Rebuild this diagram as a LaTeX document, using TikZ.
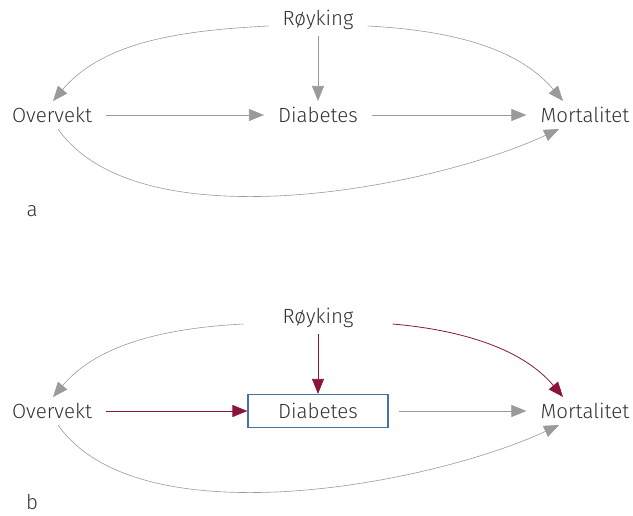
\documentclass[tikz,border=0pt]{standalone}
\usepackage{fontspec}
\setmainfont{Fira Sans Light}
\usetikzlibrary{positioning, arrows.meta}
\definecolor{xgray}{HTML}{9A9A9C}
\definecolor{xred}{HTML}{8A1538}
\definecolor{xblue}{HTML}{4673A3}
\tikzset{
	arrow/.style={line width=0.6pt, draw=xgray, -{Triangle[length=15pt, width=12pt]}, xgray},
	redarrow/.style={line width=0.8pt, draw=xred, -{Triangle[length=15pt, width=12pt]}, xred},
	var/.style={font=\fontsize{20.5}{24}\selectfont, text=black!80, inner xsep=14pt, inner ysep=6pt},
	panel/.style={font=\fontsize{20.5}{24}\selectfont, text=black!80, inner sep=0pt},
}
\begin{document}
\begin{tikzpicture}[x=1pt, y=-1pt]
		\useasboundingbox (0,0) rectangle (633,516);
		% a: causal diagram
		\node[var] (R) at (318,20) {Røyking};
		\node[var] (O) at (52,115) {Overvekt};
		\node[var] (D) at (318,115) {Diabetes};
		\node[var] (M) at (585,115) {Mortalitet};
		\node[panel] (a) at (32,211) {a};

		\draw[arrow] (R) -- (D);
		\draw[arrow] (O) -- (D);
		\draw[arrow] (D) -- (M);
		\draw[arrow] ([yshift=-6pt]R.west) to[out=183, in=50, looseness=0.9] ([xshift=1pt]O.north);
		\draw[arrow] ([yshift=-6pt]R.east) to[out=-3, in=130, looseness=0.9] ([xshift=-22pt]M.north);
		\draw[arrow] ([xshift=6pt]O.south) to[out=-55, in=-155, looseness=0.72] ([xshift=-26pt]M.south);

		% b: conditioning on diabetes
		\node[var] (R2) at (318,318) {Røyking};
		\node[var] (O2) at (52,411) {Overvekt};
		\node[var, draw=xblue, line width=1.2pt, minimum width=140pt, minimum height=33pt] (D2) at (318,411) {Diabetes};
		\node[var] (M2) at (585,411) {Mortalitet};
		\node[panel] (b) at (32,502) {b};

		\draw[redarrow] (R2) -- (D2);
		\draw[redarrow] (O2) -- (D2);
		\draw[arrow, shorten <=10pt] (D2) -- (M2);
		\draw[arrow] ([yshift=-6pt, xshift=-25pt]R2.west) to[out=183, in=50, looseness=0.9] ([xshift=1pt]O2.north);
		\draw[redarrow] ([yshift=-6pt, xshift=25pt]R2.east) to[out=-5, in=130, looseness=0.9] ([xshift=-22pt]M2.north);
		\draw[arrow] ([xshift=6pt]O2.south) to[out=-55, in=-155, looseness=0.72] ([xshift=-26pt]M2.south);
	\end{tikzpicture}
\end{document}
